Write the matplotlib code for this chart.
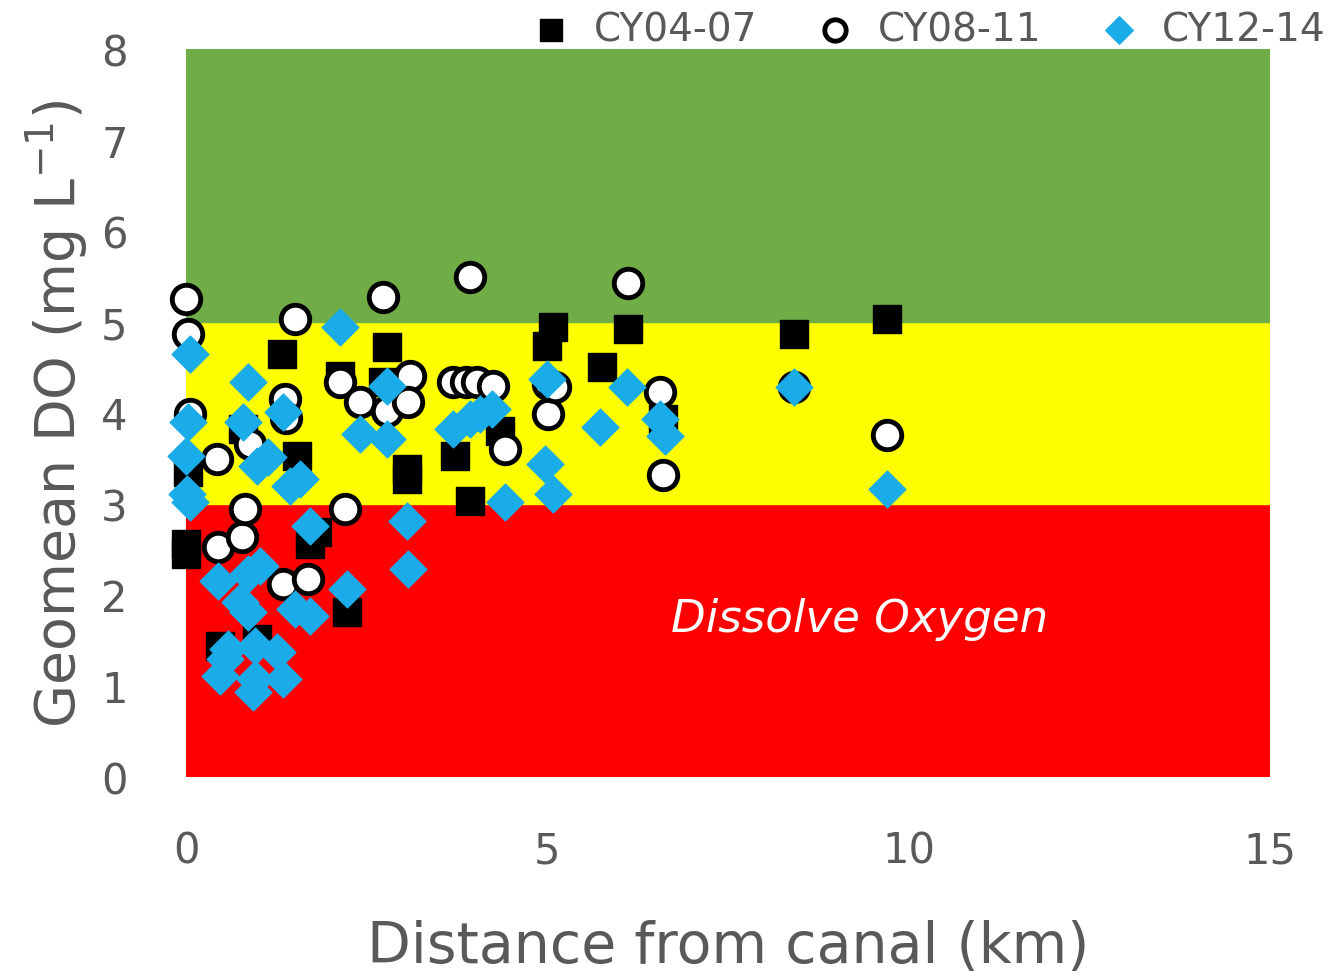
import matplotlib.pyplot as plt

# CY04-07 (black squares)
sq_x = [0.03, 0.0, 0.0, 1.33, 1.54, 2.78, 2.13, 3.06, 3.06, 2.23, 0.79, 1.81, 0.47,
        5.08, 4.99, 6.11, 5.75, 3.72, 3.93, 2.72, 6.60, 4.34, 8.42, 9.70, 0.98, 1.72]
sq_y = [3.35, 2.56, 2.45, 4.65, 3.53, 4.73, 4.41, 3.38, 3.27, 1.81, 3.82, 2.69, 1.44,
        4.95, 4.74, 4.92, 4.51, 3.53, 3.03, 4.34, 3.93, 3.80, 4.87, 5.03, 1.52, 2.56]

# CY08-11 (open circles)
ci_x = [0.0, 0.03, 0.06, 0.43, 0.44, 0.77, 0.82, 1.37, 1.38, 1.51, 1.34, 1.69, 2.20,
        2.13, 2.41, 2.72, 2.78, 3.10, 3.07, 3.69, 3.93, 3.88, 4.02, 4.25, 4.41, 5.01,
        5.01, 5.10, 6.11, 6.56, 6.60, 8.42, 9.70, 0.89]
ci_y = [5.25, 4.87, 3.99, 3.49, 2.53, 2.64, 2.95, 4.15, 3.95, 5.03, 2.12, 2.18, 2.95,
        4.34, 4.12, 5.27, 4.02, 4.41, 4.12, 4.34, 5.49, 4.34, 4.34, 4.30, 3.60, 4.32,
        3.99, 4.29, 5.43, 4.23, 3.32, 4.29, 3.76, 3.66]

# CY12-14 (blue diamonds)
di_x = [0.06, 0.86, 0.03, 0.0, 0.06, 0.01, 0.79, 0.98, 1.13, 1.44, 1.58, 1.72, 1.02,
        0.86, 0.44, 0.86, 0.75, 1.72, 1.51, 2.23, 0.54, 0.47, 0.58, 1.26, 1.34, 0.93,
        0.95, 0.95, 2.13, 1.34, 2.41, 2.78, 2.78, 3.06, 3.07, 3.69, 3.93, 4.07, 4.23,
        4.41, 4.97, 4.99, 5.08, 5.73, 6.10, 6.56, 6.63, 8.42, 9.70]
di_y = [4.65, 4.34, 3.90, 3.53, 3.02, 3.11, 3.90, 3.42, 3.52, 3.20, 3.27, 2.76, 2.32,
        2.23, 2.15, 1.81, 1.92, 1.77, 1.85, 2.07, 1.30, 1.11, 1.41, 1.37, 1.08, 0.93,
        1.08, 1.44, 4.95, 4.01, 3.77, 3.71, 4.30, 2.81, 2.29, 3.82, 3.93, 3.99, 4.04,
        3.02, 3.44, 4.37, 3.11, 3.85, 4.29, 3.93, 3.75, 4.29, 3.16]

grey = '#595959'

fig = plt.figure(figsize=(13.41, 9.79), dpi=100)
ax = fig.add_axes([186/1341, 1-778/979, (1270-186)/1341, (778-50)/979])

# DO bands
ax.axhspan(0, 3, color='#FF0000', zorder=0)
ax.axhspan(3, 5, color='#FFFF00', zorder=0)
ax.axhspan(5, 8, color='#70AD47', zorder=0)

ax.scatter(sq_x, sq_y, marker='s', s=420, color='black', zorder=3, clip_on=False,
           label='CY04-07')
ax.scatter(ci_x, ci_y, marker='o', s=420, facecolor='white', edgecolor='black',
           linewidths=3.5, zorder=4, clip_on=False, label='CY08-11')
ax.scatter(di_x, di_y, marker='D', s=350, color='#1AACE8', zorder=5, clip_on=False,
           label='CY12-14')

ax.text(9.32, 1.74, 'Dissolve Oxygen', color='white', style='italic',
        fontsize=32.5, ha='center', va='center', zorder=6)

ax.set_xlim(0, 15)
ax.set_ylim(0, 8)
ax.set_xticks([0, 5, 10, 15])
ax.set_yticks(range(9))
for s in ax.spines.values():
    s.set_visible(False)
ax.tick_params(length=0, labelsize=30, labelcolor=grey)
ax.tick_params(axis='x', pad=38)
ax.tick_params(axis='y', pad=42)

ax.set_xlabel('Distance from canal (km)', fontsize=41, color=grey, labelpad=34)
ax.set_ylabel('Geomean DO (mg L$^{-1}$)', fontsize=40, color=grey, labelpad=8)

fig.legend(loc='center right', bbox_to_anchor=(1.0, 1-30/979), ncol=3,
           frameon=False, fontsize=28, labelcolor=grey, markerscale=0.75,
           handletextpad=0.1, columnspacing=1.0, borderaxespad=0)

fig.savefig('out.png', dpi=100)
